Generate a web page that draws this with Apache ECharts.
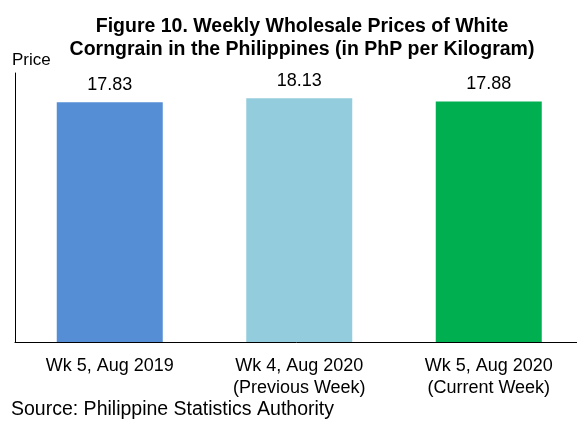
<!DOCTYPE html>
<html>
<head>
<meta charset="utf-8">
<script src="https://cdn.jsdelivr.net/npm/echarts@6/dist/echarts.min.js"></script>
<style>
  html, body { margin: 0; padding: 0; background: #fff; }
  #main { width: 577px; height: 427px; }
</style>
</head>
<body>
<div id="main"></div>
<script>
var categories = ['Wk 5, Aug 2019', 'Wk 4, Aug 2020\n(Previous Week)', 'Wk 5, Aug 2020\n(Current Week)'];
var prices = [17.83, 18.13, 17.88];
var barColors = ['#558ed5', '#93cddd', '#00b050'];

var myChart = echarts.init(document.getElementById('main'));
var font = 'Liberation Sans, Arial, sans-serif';

var option = {
  backgroundColor: '#fff',
  animation: false,
  title: {
    text: 'Figure 10. Weekly Wholesale Prices of White\nCorngrain in the Philippines (in PhP per Kilogram)',
    left: 297,
    textAlign: 'center',
    top: 10,
    textStyle: { fontFamily: font, fontSize: 19.5, fontWeight: 'bold', color: '#000', lineHeight: 23 }
  },
  graphic: [
    {
      type: 'text', left: 11, top: 400,
      style: { text: 'Source: Philippine Statistics Authority', font: '19.5px ' + font, fill: '#000' }
    }
  ],
  // grid is wider than the window, the picture is cut on the right
  grid: { left: 15, width: 568.5, top: 73, bottom: 85, containLabel: false, outerBoundsMode: 'none' },
  xAxis: {
    type: 'category',
    data: categories,
    axisLine: { lineStyle: { color: '#000', width: 1 } },
    axisTick: { show: false },
    axisLabel: { color: '#000', fontFamily: font, fontSize: 18, lineHeight: 22, margin: 13, interval: 0 }
  },
  yAxis: {
    type: 'value',
    min: 0,
    max: 20,
    name: 'Price',
    nameLocation: 'end',
    nameGap: 4,
    nameTextStyle: { color: '#000', fontFamily: font, fontSize: 17, align: 'left', padding: [0, 0, 0, -3] },
    axisLine: { show: true, lineStyle: { color: '#000', width: 1 } },
    axisTick: { show: false },
    axisLabel: { show: false },
    splitLine: { show: false }
  },
  series: [
    {
      type: 'bar',
      data: prices.map(function (v, i) {
        return { value: v, itemStyle: { color: barColors[i] } };
      }),
      barWidth: 106,
      label: {
        show: true,
        position: 'top',
        distance: 8,
        color: '#000',
        fontFamily: font,
        fontSize: 18,
        formatter: function (p) { return p.value.toFixed(2); }
      }
    }
  ]
};
myChart.setOption(option);
</script>
</body>
</html>
